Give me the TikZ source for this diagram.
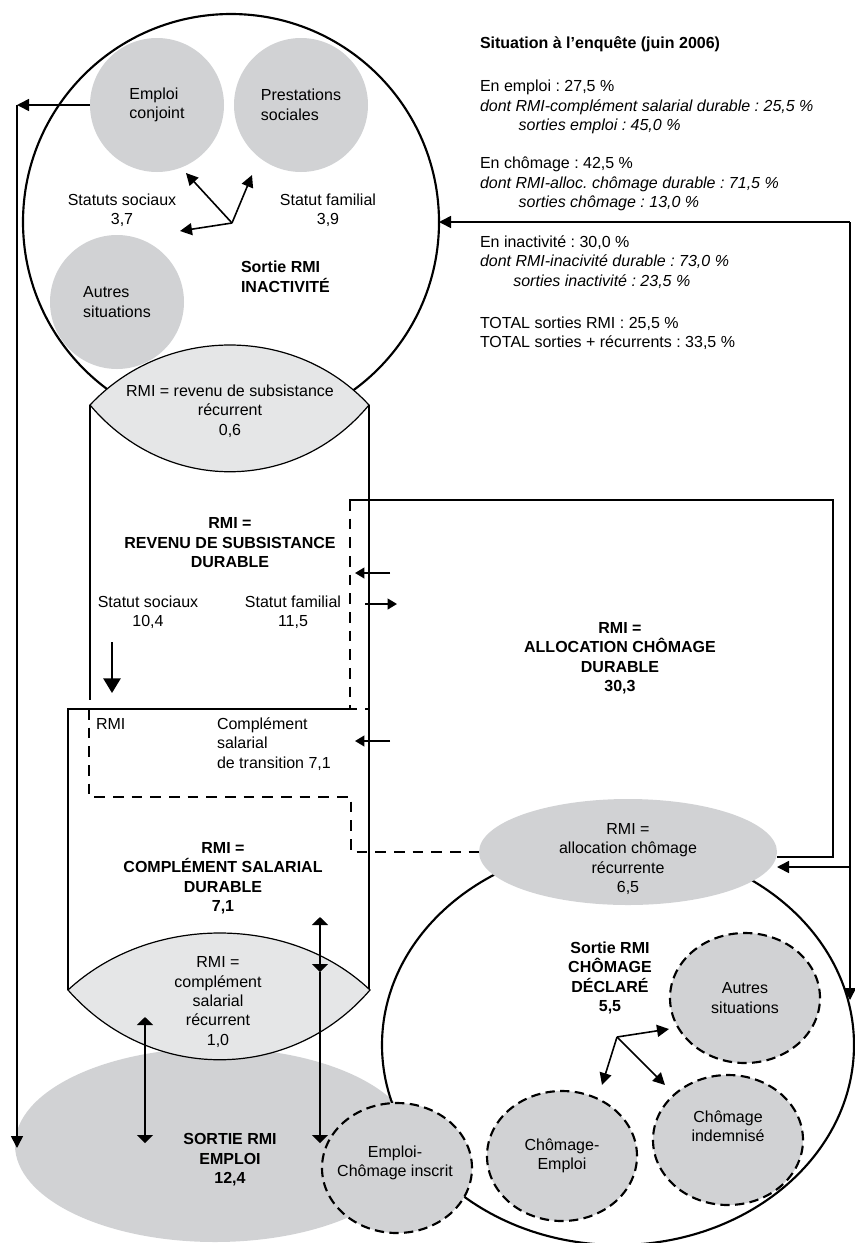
\documentclass[tikz,border=0pt]{standalone}
\usepackage{fontspec}
\setmainfont{Liberation Sans}
\usepackage{tikz}
\usetikzlibrary{arrows.meta,shapes.geometric}
\definecolor{grisfonce}{RGB}{209,210,212}
\definecolor{grisclair}{RGB}{229,230,231}
\frenchspacing

\begin{document}
\begin{tikzpicture}[x=0.75pt,y=-0.75pt,>={Triangle[length=9pt,width=9pt]},line width=1pt,
                    font=\fontsize{12}{14.6}\selectfont]
  \tikzstyle{every node}=[align=center,inner sep=0pt,outer sep=0pt]
  \tikzstyle{bulle}=[circle,fill=grisfonce,minimum size=100.5pt,align=left]
  \tikzstyle{pointille}=[ellipse,fill=grisfonce,draw,line width=1.6pt,dash pattern=on 7pt off 4pt,minimum width=112.5pt,minimum height=97.5pt]
  \tikzstyle{titre}=[font=\fontsize{12}{14.6}\selectfont\bfseries]
  \tikzstyle{tirets}=[line width=0.9pt,dash pattern=on 8pt off 6pt]
  \tikzstyle{paroi}=[line width=0.9pt]
  \tikzstyle{fleche}=[->,line width=1.2pt]
  \tikzstyle{petite}=[->,>={Triangle[length=7pt,width=8pt]},line width=1.4pt]
  \tikzstyle{grosse}=[->,>={Triangle[length=11pt,width=13pt]},line width=1.2pt]
  \tikzstyle{allerretour}=[<->,>={Triangle[length=6pt,width=12pt]},line width=1pt]
  \tikzstyle{descente}=[->,>={Triangle[length=6pt,width=12pt]},line width=1pt]

  \useasboundingbox (0,0) rectangle (855,1243);

  \node[circle,draw,line width=1.6pt,minimum size=312pt] (inact) at (231,222) {};
  \node[bulle] (conj)    at (157,105) {Emploi\\conjoint};
  \node[bulle] (prest)   at (301,105) {Prestations\\sociales};
  \node[bulle] (autresA) at (117,302) {Autres\\situations};
  \node (ssoc) at (122,210) {Statuts sociaux\\3,7};
  \node (sfam) at (328,210) {Statut familial\\3,9};
  \node[titre,anchor=west,align=left] (sinact) at (241,277) {Sortie RMI\\INACTIVITÉ};

  \coordinate (hubA) at (232,223);
  \coordinate (vConj) at (186,173);
  \coordinate (vPrest) at (252,175);
  \coordinate (vAutres) at (180,231);
  \draw[fleche] (hubA) -- (vConj);
  \draw[fleche] (hubA) -- (vPrest);
  \draw[fleche] (hubA) -- (vAutres);

  \draw[paroi] (90,405) -- (90,700);
  \draw[paroi] (369,405) -- (369,990);
  \draw[paroi] (68,990) -- (68,709) -- (350,709);
  \draw[tirets] (350,500) -- (350,709) -- (369,709);

  \draw[paroi,fill=grisclair] (90,405) .. controls (165,325) and (295,325) .. (369,405)
        .. controls (295,494) and (165,494) .. (90,405) -- cycle;
  \node (rsr) at (230,411) {RMI = revenu de subsistance\\récurrent\\0,6};

  \node[titre] (rsd) at (230,543) {RMI =\\REVENU DE SUBSISTANCE\\DURABLE};
  \node (ssoc2) at (148,612) {Statut sociaux\\10,4};
  \node (sfam2) at (293,612) {Statut familial\\11,5};
  \coordinate (dA) at (112,642);
  \coordinate (dB) at (112,693);
  \draw[grosse] (dA) -- (dB);
  \node[anchor=west] (rmiT) at (96,724) {RMI};
  \node[anchor=west,align=left] (cst) at (217,744) {Complément\\salarial\\de transition 7,1};
  \node[titre] (csd) at (223,878) {RMI =\\COMPLÉMENT SALARIAL\\DURABLE\\7,1};
  \node[titre] (acd) at (620,658) {RMI =\\ALLOCATION CHÔMAGE\\DURABLE\\30,3};

  \coordinate (g1a) at (390,573);
  \coordinate (g1b) at (355,573);
  \coordinate (d1a) at (365,604);
  \coordinate (d1b) at (397,604);
  \coordinate (g2a) at (390,741);
  \coordinate (g2b) at (355,741);
  \draw[petite] (g1a) -- (g1b);
  \draw[petite] (d1a) -- (d1b);
  \draw[petite] (g2a) -- (g2b);

  \node[ellipse,fill=grisfonce,minimum width=300pt,minimum height=145.5pt] (sortieE) at (215,1145) {};
  \node[titre] (setxt) at (230,1160) {SORTIE RMI\\EMPLOI\\12,4};
  \draw[paroi,fill=grisclair] (68,990) .. controls (150,914) and (290,914) .. (370,990)
        .. controls (290,1083) and (150,1083) .. (68,990) -- cycle;
  \node (csr) at (218,1002) {RMI =\\complément\\salarial\\récurrent\\1,0};

  \coordinate (dbA) at (320,917);
  \coordinate (dbB) at (320,972);
  \coordinate (dbC) at (320,1143);
  \draw[allerretour] (dbA) -- (dbB);
  \draw[descente] (dbB) -- (dbC);
  \coordinate (dcA) at (145,1017);
  \coordinate (dcB) at (145,1143);
  \draw[allerretour] (dcA) -- (dcB);

  \node[ellipse,draw,line width=1.6pt,minimum width=354pt,minimum height=300pt] (chom) at (618,1045) {};
  \node[ellipse,fill=grisfonce,minimum width=223.5pt,minimum height=79.5pt] (alloc) at (628,852) {};
  \node (acr) at (628,859) {RMI =\\allocation chômage\\récurrente\\6,5};
  \node[titre] (sch) at (610,978) {Sortie RMI\\CHÔMAGE\\DÉCLARÉ\\5,5};
  \node[pointille] (autresB) at (745,998) {Autres\\situations};
  \node[pointille] (chind) at (728,1140) {};
  \node (chindT) at (728,1126) {Chômage\\indemnisé};
  \node[pointille] (chemp) at (562,1156) {Chômage-\\Emploi};
  \node[pointille] (ecins) at (397,1168) {};
  \node (ecinsT) at (395,1163) {Emploi-\\Chômage inscrit};

  \coordinate (hubB) at (617,1037);
  \coordinate (vAutresB) at (669,1029);
  \coordinate (vInd) at (665,1085);
  \coordinate (vEmp) at (602,1085);
  \draw[fleche] (hubB) -- (vAutresB);
  \draw[fleche] (hubB) -- (vInd);
  \draw[fleche] (hubB) -- (vEmp);

  \coordinate (boxTL) at (349,500);
  \coordinate (boxTR) at (833,500);
  \coordinate (boxBR) at (833,857);
  \draw[paroi] (boxTL) -- (boxTR) -- (boxBR) -- (boxBR -| alloc.east);
  \draw[tirets] (89,709) -- (89,797) -- (351,797) -- (351,852) -- (alloc.west);

  \coordinate (cR) at (850,222);
  \coordinate (cRm) at (850,867);
  \coordinate (cRb) at (850,1000);
  \draw[fleche] (cR) -- (inact.east);
  \draw[fleche] (cR) -- (cRb);
  \draw[fleche] (cRm) -- (cRm -| alloc.east);

  \coordinate (cL) at (17,105);
  \coordinate (cLb) at (17,1148);
  \draw[fleche] (conj.west) -- (cL);
  \draw[fleche] (cL) -- (cLb);

  \node[titre,anchor=west] (enq) at (480,44) {Situation à l’enquête (juin 2006)};
  \node[anchor=west,align=left] (emploi) at (480,107) {En emploi : 27,5 \%\\\textit{dont RMI-complément salarial durable : 25,5 \%}\\\hspace*{29pt}\textit{sorties emploi : 45,0 \%}};
  \node[anchor=west,align=left] (chomage) at (480,184) {En chômage : 42,5 \%\\\textit{dont RMI-alloc. chômage durable : 71,5 \%}\\\hspace*{29pt}\textit{sorties chômage : 13,0 \%}};
  \node[anchor=west,align=left] (inactiv) at (480,262) {En inactivité : 30,0 \%\\\textit{dont RMI-inacivité durable : 73,0 \%}\\\hspace*{25pt}\textit{sorties inactivité : 23,5 \%}};
  \node[anchor=west,align=left] (total) at (480,333) {TOTAL sorties RMI : 25,5 \%\\TOTAL sorties + récurrents : 33,5 \%};
\end{tikzpicture}
\end{document}
